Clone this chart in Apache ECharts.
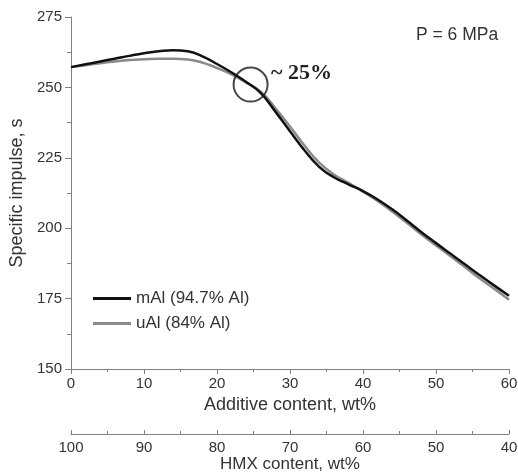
<!DOCTYPE html>
<html>
<head>
<meta charset="utf-8">
<script src="https://cdn.jsdelivr.net/npm/echarts@6/dist/echarts.min.js"></script>
<style>
  html, body { margin: 0; padding: 0; background: #fff; }
  #chart { width: 518px; height: 475px; }
</style>
</head>
<body>
<div id="chart"></div>
<script>
// additive content, wt%
var additive = [0, 2, 4, 6, 8, 10, 12, 14, 16, 18, 20, 22, 24, 26, 28, 30, 32, 34, 36, 38, 40, 42, 44, 46, 48, 50, 52, 54, 56, 58, 60];
// specific impulse, s
var mAl = [257.2, 258.2, 259.2, 260.2, 261.2, 262.1, 262.8, 263.2, 262.8, 261.0, 258.3, 255.3, 251.9, 248.0, 241.4, 234.4, 227.6, 221.8, 218.1, 215.6, 213.2, 210.2, 206.7, 202.7, 198.6, 194.7, 190.9, 187.1, 183.3, 179.6, 176.0];
var uAl = [257.2, 257.9, 258.6, 259.2, 259.7, 260.0, 260.2, 260.2, 259.9, 258.8, 256.9, 254.6, 251.7, 248.5, 242.6, 236.1, 229.3, 223.3, 219.1, 216.1, 213.0, 209.7, 205.9, 201.9, 197.8, 193.9, 190.0, 186.1, 182.1, 178.4, 174.6];
var seriesNames = ['mAl (94.7% Al)', 'uAl (84% Al)'];
var crossPoint = [24.6, 251];

var FONT = '"Liberation Sans", Arial, sans-serif';

function pairs(xs, ys) {
    var out = [];
    for (var i = 0; i < xs.length; i++) {
        out.push([xs[i], ys[i]]);
    }
    return out;
}

var myChart = echarts.init(document.getElementById('chart'), null, {renderer: 'canvas'});

var axisLineStyle = {show: true, lineStyle: {color: '#808080', width: 1}};

var option = {
    backgroundColor: '#fff',
    animation: false,
    grid: {left: 71, right: 9, top: 17, bottom: 106, outerBoundsMode: 'none'},
    legend: {
        orient: 'vertical',
        left: 88,
        top: 285,
        icon: 'rect',
        itemWidth: 38,
        itemHeight: 3,
        itemGap: 8,
        data: seriesNames,
        textStyle: {fontFamily: FONT, fontSize: 17, color: '#333'}
    },
    graphic: [
        {
            type: 'text',
            left: 416,
            top: 26,
            style: {text: 'P = 6 MPa', font: '17.5px ' + FONT, fill: '#333'}
        },
        {
            type: 'text',
            left: 271,
            top: 62,
            style: {text: '~ 25%', font: 'bold 22px "Liberation Serif", "Times New Roman", serif', fill: '#222'}
        }
    ],
    xAxis: [
        {
            type: 'value',
            min: 0, max: 60, interval: 10,
            name: 'Additive content, wt%',
            nameLocation: 'middle',
            nameGap: 27,
            nameMoveOverlap: false,
            nameTextStyle: {fontFamily: FONT, fontSize: 18, color: '#333'},
            axisLine: axisLineStyle,
            axisTick: {show: true, length: 5, lineStyle: {color: '#808080'}},
            minorTick: {show: true, splitNumber: 2, length: 3, lineStyle: {color: '#808080'}},
            axisLabel: {fontFamily: FONT, fontSize: 15, color: '#333', margin: 7},
            splitLine: {show: false}
        },
        {
            type: 'value',
            position: 'bottom',
            offset: 65,
            inverse: true,
            min: 40, max: 100, interval: 10,
            name: 'HMX content, wt%',
            nameLocation: 'middle',
            nameGap: 22,
            nameMoveOverlap: false,
            nameTextStyle: {fontFamily: FONT, fontSize: 17, color: '#333'},
            axisLine: axisLineStyle,
            axisTick: {show: true, inside: true, length: 4, lineStyle: {color: '#808080'}},
            minorTick: {show: true, splitNumber: 2, length: 3, lineStyle: {color: '#808080'}},
            axisLabel: {fontFamily: FONT, fontSize: 15, color: '#333', margin: 6},
            splitLine: {show: false}
        }
    ],
    yAxis: {
        type: 'value',
        min: 150, max: 275, interval: 25,
        name: 'Specific impulse, s',
        nameLocation: 'middle',
        nameGap: 39,
        nameTextStyle: {fontFamily: FONT, fontSize: 18, color: '#333'},
        axisLine: axisLineStyle,
        axisTick: {show: true, length: 6, lineStyle: {color: '#808080'}},
        minorTick: {show: true, splitNumber: 2, length: 4, lineStyle: {color: '#808080'}},
        axisLabel: {fontFamily: FONT, fontSize: 15, color: '#333', margin: 9},
        splitLine: {show: false}
    },
    series: [
        {
            name: seriesNames[0],
            type: 'line',
            xAxisIndex: 0,
            smooth: true,
            symbol: 'none',
            lineStyle: {color: '#111', width: 2.5},
            itemStyle: {color: '#111'},
            data: pairs(additive, mAl),
            z: 3
        },
        {
            name: seriesNames[1],
            type: 'line',
            xAxisIndex: 0,
            smooth: true,
            symbol: 'none',
            lineStyle: {color: '#8a8a8a', width: 2.5},
            itemStyle: {color: '#8a8a8a'},
            data: pairs(additive, uAl),
            z: 2
        },
        {
            type: 'scatter',
            xAxisIndex: 0,
            symbol: 'circle',
            symbolSize: 34,
            silent: true,
            itemStyle: {color: 'rgba(0,0,0,0)', borderColor: '#1a1a1a', borderWidth: 2},
            data: [crossPoint],
            z: 4
        }
    ]
};

myChart.setOption(option);
</script>
</body>
</html>
